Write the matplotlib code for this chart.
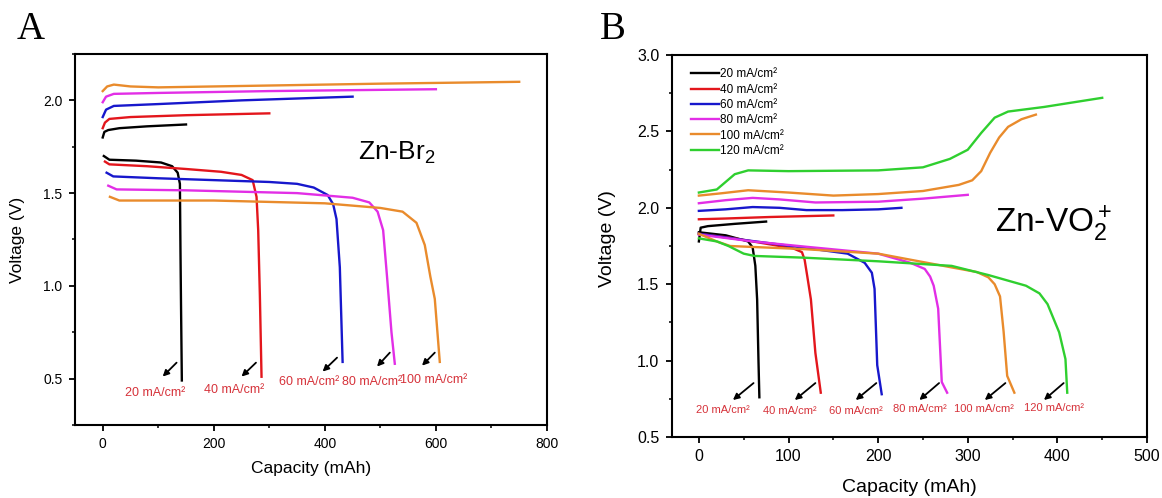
"""
Galvanostatic charge/discharge curves of Zn-Br2 (A) and Zn-VO2+ (B)
at several current densities, redrawn from the published figure.
"""

import matplotlib
matplotlib.use("Agg")
import matplotlib.pyplot as plt
from matplotlib.ticker import MultipleLocator

plt.rcParams["font.family"] = ["Liberation Sans", "DejaVu Sans"]
plt.rcParams["mathtext.fontset"] = "custom"
plt.rcParams["mathtext.rm"] = "Liberation Sans"
plt.rcParams["mathtext.it"] = "Liberation Sans:italic"
plt.rcParams["mathtext.bf"] = "Liberation Sans:bold"

COLORS = ["#000000", "#e3161c", "#1717cc", "#e22ee6", "#e98b2c", "#2fcf2f"]
LABELS = ["20 mA/cm²", "40 mA/cm²", "60 mA/cm²", "80 mA/cm²", "100 mA/cm²", "120 mA/cm²"]
NOTE_RED = "#d6323a"

# ---- panel A: Zn-Br2 ------------------------------------------------------
a_charge_x = [
    [0, 3, 10, 30, 80, 150],
    [0, 4, 12, 50, 150, 300],
    [0, 6, 20, 100, 250, 450],
    [0, 6, 20, 100, 300, 600],
    [0, 8, 20, 50, 100, 300, 500, 750],
]
a_charge_y = [
    [1.80, 1.83, 1.84, 1.85, 1.86, 1.87],
    [1.85, 1.88, 1.90, 1.91, 1.92, 1.93],
    [1.91, 1.95, 1.97, 1.98, 2.00, 2.02],
    [1.99, 2.02, 2.035, 2.04, 2.05, 2.06],
    [2.05, 2.075, 2.085, 2.075, 2.07, 2.08, 2.09, 2.10],
]
a_dis_x = [
    [2, 12, 60, 105, 125, 135, 139, 140, 141, 142.5],
    [4, 12, 80, 150, 213, 250, 270, 277, 280, 283, 286],
    [7, 19, 100, 200, 300, 350, 380, 405, 415, 421, 427, 432],
    [10, 25, 150, 350, 450, 480, 495, 505, 512, 520, 526],
    [13, 30, 200, 400, 500, 540, 565, 580, 590, 598, 607],
]
a_dis_y = [
    [1.70, 1.68, 1.675, 1.665, 1.645, 1.61, 1.55, 1.20, 0.90, 0.49],
    [1.67, 1.655, 1.645, 1.63, 1.615, 1.598, 1.57, 1.48, 1.30, 0.95, 0.51],
    [1.61, 1.59, 1.58, 1.57, 1.56, 1.55, 1.53, 1.49, 1.44, 1.36, 1.10, 0.59],
    [1.54, 1.52, 1.515, 1.50, 1.475, 1.45, 1.40, 1.30, 1.05, 0.75, 0.58],
    [1.48, 1.46, 1.46, 1.445, 1.42, 1.40, 1.34, 1.22, 1.05, 0.93, 0.59],
]
a_note_x = [94, 236, 371, 485, 596]
a_note_y = [0.425, 0.44, 0.48, 0.484, 0.495]
a_arrow_tail_x = [133, 276, 422, 517, 598]
a_arrow_tail_y = [0.586, 0.586, 0.613, 0.64, 0.64]
a_arrow_head_x = [108, 250, 396, 494, 575]
a_arrow_head_y = [0.511, 0.511, 0.538, 0.565, 0.57]

# ---- panel B: Zn-VO2+ -----------------------------------------------------
b_charge_x = [
    [0, 2, 10, 40, 75],
    [0, 30, 80, 150],
    [0, 30, 60, 90, 120, 160, 200, 226],
    [0, 30, 60, 90, 130, 200, 250, 300],
    [0, 25, 55, 100, 150, 200, 250, 290, 305, 315, 325, 335, 345, 360, 376],
    [0, 20, 30, 40, 55, 100, 200, 250, 280, 300, 315, 330, 345, 385, 450],
]
b_charge_y = [
    [1.78, 1.87, 1.88, 1.895, 1.91],
    [1.925, 1.93, 1.94, 1.95],
    [1.98, 1.99, 2.005, 2.0, 1.985, 1.985, 1.99, 2.0],
    [2.03, 2.05, 2.065, 2.055, 2.035, 2.04, 2.06, 2.085],
    [2.08, 2.095, 2.115, 2.10, 2.08, 2.09, 2.11, 2.15, 2.18, 2.24, 2.36, 2.46, 2.53, 2.58, 2.61],
    [2.10, 2.12, 2.17, 2.22, 2.245, 2.24, 2.245, 2.265, 2.32, 2.38, 2.49, 2.59, 2.63, 2.66, 2.72],
]
b_dis_x = [
    [0, 30, 55, 60, 63, 65, 66.5, 67.5],
    [0, 40, 75, 105, 115, 118, 121, 125, 130, 136],
    [0, 50, 116, 166, 185, 193, 196, 199, 204],
    [0, 60, 120, 200, 236, 252, 258, 262, 267, 271, 277],
    [0, 20, 35, 116, 200, 282, 310, 323, 330, 336, 340, 344, 352],
    [0, 20, 33, 50, 62, 116, 200, 282, 323, 365, 380, 389, 402, 409, 411],
]
b_dis_y = [
    [1.84, 1.82, 1.78, 1.74, 1.62, 1.40, 1.00, 0.76],
    [1.83, 1.80, 1.765, 1.735, 1.71, 1.66, 1.55, 1.40, 1.05, 0.79],
    [1.83, 1.79, 1.74, 1.70, 1.64, 1.575, 1.47, 0.97, 0.78],
    [1.825, 1.78, 1.745, 1.70, 1.64, 1.60, 1.55, 1.49, 1.34, 0.86, 0.79],
    [1.83, 1.78, 1.75, 1.73, 1.70, 1.61, 1.58, 1.545, 1.50, 1.42, 1.19, 0.90, 0.79],
    [1.80, 1.78, 1.75, 1.70, 1.685, 1.674, 1.65, 1.62, 1.56, 1.49, 1.44, 1.37, 1.185, 1.01, 0.79],
]
b_note_x = [27, 102, 175, 247, 318, 396]
b_note_y = [0.677, 0.67, 0.667, 0.68, 0.686, 0.69]
b_arrow_tail_x = [61, 130, 198, 268, 342, 407]
b_arrow_tail_y = [0.853] * 6
b_arrow_head_x = [38, 107, 175, 246, 319, 385]
b_arrow_head_y = [0.742] * 6


def style_axes(ax, tick_size):
    for side in ax.spines.values():
        side.set_linewidth(1.5)
    ax.tick_params(which="major", direction="out", length=4.5, width=1.3,
                   labelsize=tick_size, pad=4.5)
    ax.tick_params(which="minor", direction="out", length=2.3, width=1.1)


def add_arrows(ax, tail_x, tail_y, head_x, head_y):
    for tx, ty, hx, hy in zip(tail_x, tail_y, head_x, head_y):
        ax.annotate("", xy=(hx, hy), xytext=(tx, ty),
                    arrowprops=dict(arrowstyle="-|>", color="black", lw=1.3,
                                    mutation_scale=9, shrinkA=0, shrinkB=0))


fig = plt.figure(figsize=(11.62, 4.98), dpi=100)

# panel A
ax_a = fig.add_axes([0.0645, 0.1466, 0.4062, 0.745])
for i in range(5):
    ax_a.plot(a_charge_x[i], a_charge_y[i], color=COLORS[i], lw=1.7)
    ax_a.plot(a_dis_x[i], a_dis_y[i], color=COLORS[i], lw=1.7)
    ax_a.text(a_note_x[i], a_note_y[i], LABELS[i], color=NOTE_RED,
              fontsize=9, ha="center", va="center")
add_arrows(ax_a, a_arrow_tail_x, a_arrow_tail_y, a_arrow_head_x, a_arrow_head_y)
ax_a.text(459, 1.677, r"Zn-Br$_2$", fontsize=19, ha="left", va="baseline")
ax_a.set_xlim(-50, 800)
ax_a.set_ylim(0.25, 2.25)
ax_a.xaxis.set_major_locator(MultipleLocator(200))
ax_a.xaxis.set_minor_locator(MultipleLocator(100))
ax_a.yaxis.set_major_locator(MultipleLocator(0.5))
ax_a.yaxis.set_minor_locator(MultipleLocator(0.25))
style_axes(ax_a, 10)
ax_a.set_xlabel("Capacity (mAh)", fontsize=12.5, va="center")
ax_a.set_ylabel("Voltage (V)", fontsize=12.5, va="center")
ax_a.xaxis.set_label_coords(0.5, -0.118)
ax_a.yaxis.set_label_coords(-0.121, 0.5)

# panel B
ax_b = fig.add_axes([0.5783, 0.1225, 0.4088, 0.767])
lines = []
for i in range(6):
    ln, = ax_b.plot(b_charge_x[i], b_charge_y[i], color=COLORS[i], lw=1.7, label=LABELS[i])
    ax_b.plot(b_dis_x[i], b_dis_y[i], color=COLORS[i], lw=1.7)
    ax_b.text(b_note_x[i], b_note_y[i], LABELS[i], color=NOTE_RED,
              fontsize=8, ha="center", va="center")
    lines.append(ln)
add_arrows(ax_b, b_arrow_tail_x, b_arrow_tail_y, b_arrow_head_x, b_arrow_head_y)
ax_b.text(330, 1.842, r"Zn-VO$_2^+$", fontsize=24, ha="left", va="baseline")
ax_b.set_xlim(-30, 500)
ax_b.set_ylim(0.5, 3.0)
ax_b.xaxis.set_major_locator(MultipleLocator(100))
ax_b.xaxis.set_minor_locator(MultipleLocator(50))
ax_b.yaxis.set_major_locator(MultipleLocator(0.5))
ax_b.yaxis.set_minor_locator(MultipleLocator(0.25))
style_axes(ax_b, 11.5)
ax_b.set_xlabel("Capacity (mAh)", fontsize=14, va="center")
ax_b.set_ylabel("Voltage (V)", fontsize=14, va="center")
ax_b.xaxis.set_label_coords(0.5, -0.131)
ax_b.yaxis.set_label_coords(-0.135, 0.52)
ax_b.legend(handles=lines, loc="upper left", bbox_to_anchor=(0.04, 0.965),
            frameon=False, fontsize=8.5, handlelength=2.4, handletextpad=0.1,
            labelspacing=0.28, borderpad=0, borderaxespad=0)

fig.text(0.014, 0.922, "A", fontsize=28, family="Liberation Serif", va="baseline")
fig.text(0.516, 0.922, "B", fontsize=28, family="Liberation Serif", va="baseline")

fig.savefig("out.png", dpi=100)
